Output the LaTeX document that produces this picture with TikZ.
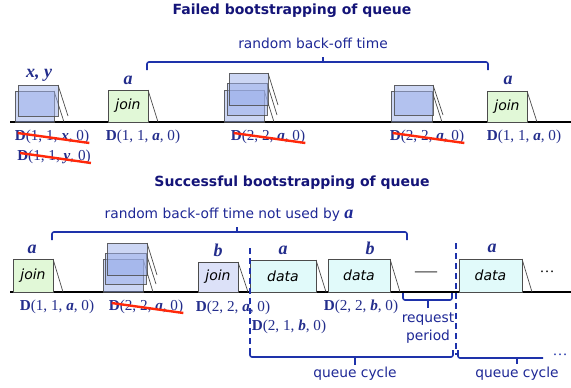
\documentclass[tikz,border=0pt]{standalone}
\usepackage{fontspec}
\setmainfont{Liberation Serif}
\setsansfont{DejaVu Sans}
\definecolor{navy}{RGB}{20,20,120}
\definecolor{bracec}{RGB}{30,50,170}
\definecolor{lblc}{RGB}{30,40,150}
\definecolor{dc}{RGB}{35,45,140}
\definecolor{collc}{RGB}{155,175,235}
\definecolor{joing}{RGB}{225,248,215}
\definecolor{joinb}{RGB}{220,225,248}
\definecolor{datac}{RGB}{225,250,250}
\definecolor{strikec}{RGB}{255,40,10}
\tikzset{
  title/.style={font=\sffamily\bfseries\fontsize{14}{16}\selectfont, text=navy, inner sep=0pt},
  lbl/.style={font=\sffamily\fontsize{13.8}{16}\selectfont, text=lblc, inner sep=0pt},
  dl/.style={font=\fontsize{15.2}{17}\selectfont, text=dc, inner sep=0pt},
  who/.style={font=\bfseries\itshape\fontsize{18}{20}\selectfont, text=dc, inner sep=0pt},
  brace/.style={draw=bracec, line width=1.6pt, rounded corners=2pt},
  vdash/.style={draw=bracec, line width=1.6pt, dash pattern=on 6pt off 4pt},
  strike/.style={draw=strikec, line width=2.4pt},
  pk/.style={draw=black!70, line width=0.7pt, inner sep=0pt, outer sep=0pt, anchor=south west,
     font=\sffamily\itshape\fontsize{14}{16}\selectfont},
  coll/.style={pk, fill=collc, fill opacity=0.5, draw opacity=0.85},
  tail/.style={draw=black!70, line width=0.7pt},
}
\newcommand\pkbox[7]{% name, x1, ytop, x2, ybot, style, text
  \node[#6, minimum width=#4pt-#2pt, minimum height=#5pt-#3pt] (#1) at (#2,#5) {#7};
  \draw[tail] (#1.north east) -- ([xshift=10pt]#1.south east);}
\begin{document}
\begin{tikzpicture}[x=1pt, y=-1pt]
\path[use as bounding box, fill=white] (0,0) rectangle (571,388);

% ---------- top: failed ----------
\node[title] (t1) at (292,11) {Failed bootstrapping of queue};
\node[lbl] (r1) at (313,43) {random back-off time};
\draw[brace] (147,70) -- (147,62) -- (488,62) -- (488,70);
\draw[brace] (323,62) -- (323,57);
\draw[line width=1.6pt] (10,122) -- (571,122);

\pkbox{c1a}{15}{91}{54}{122}{coll}{}
\pkbox{c1b}{18}{85}{58}{116}{coll}{}
\pkbox{ja1}{108}{90}{148}{122}{pk, fill=joing}{join}
\pkbox{c3a}{224}{90}{264}{122}{coll}{}
\pkbox{c3b}{227}{83}{267}{115}{coll}{}
\pkbox{c3c}{229}{73}{268}{105}{coll}{}
\pkbox{c4a}{391}{91}{432}{122}{coll}{}
\pkbox{c4b}{394}{85}{433}{115}{coll}{}
\pkbox{ja2}{487}{91}{527}{122}{pk, fill=joing}{join}

\node[who] (wxy) at (39,75) {x, y};
\node[who] (wa1) at (128,80) {a};
\node[who] (wa2) at (508,80) {a};

\node[dl] (d1) at (52,137) {\textbf{D}(1, 1, \textbf{\textit{x}}, 0)};
\node[dl] (d2) at (54,157) {\textbf{D}(1, 1, \textbf{\textit{y}}, 0)};
\node[dl] (d3) at (143,137) {\textbf{D}(1, 1, \textbf{\textit{a}}, 0)};
\node[dl] (d4) at (268,137) {\textbf{D}(2, 2, \textbf{\textit{a}}, 0)};
\node[dl] (d5) at (427,137) {\textbf{D}(2, 2, \textbf{\textit{a}}, 0)};
\node[dl] (d6) at (524,137) {\textbf{D}(1, 1, \textbf{\textit{a}}, 0)};
\foreach \d in {d1,d2,d4,d5}
  \draw[strike] ([shift={(3,-4)}]\d.west) -- ([shift={(0,6)}]\d.east);

% ---------- bottom: successful ----------
\node[title] (t2) at (292,183) {Successful bootstrapping of queue};
\node[lbl] (r2) at (229,215) {random back-off time not used by {\rmfamily\bfseries\itshape\fontsize{18}{20}\selectfont a}};
\draw[brace] (52,240) -- (52,232) -- (407,232) -- (407,240);
\draw[brace] (237,232) -- (237,227);
\draw[line width=1.6pt] (10,292) -- (571,292);

\pkbox{jb1}{13}{259}{53}{292}{pk, fill=joing}{join}
\pkbox{c5a}{103}{259}{143}{292}{coll}{}
\pkbox{c5b}{105}{253}{146}{284}{coll}{}
\pkbox{c5c}{107}{243}{147}{275}{coll}{}
\pkbox{jbb}{198}{262}{238}{292}{pk, fill=joinb}{join}
\pkbox{da1}{250}{260}{316}{292}{pk, fill=datac}{data}
\pkbox{db}{328}{259}{390}{292}{pk, fill=datac}{data}
\pkbox{da2}{459}{259}{522}{292}{pk, fill=datac}{data}

\node[who] (wb1) at (32,249) {a};
\node[who] (wb2) at (218,250) {b};
\node[who] (wb3) at (283,250) {a};
\node[who] (wb4) at (370,248) {b};
\node[who] (wb5) at (492,248) {a};

\node[dl] (e1) at (57,307) {\textbf{D}(1, 1, \textbf{\textit{a}}, 0)};
\node[dl] (e2) at (146,307) {\textbf{D}(2, 2, \textbf{\textit{a}}, 0)};
\node[dl] (e3) at (233,308) {\textbf{D}(2, 2, \textbf{\textit{a}}, 0)};
\node[dl] (e4) at (289,327) {\textbf{D}(2, 1, \textbf{\textit{b}}, 0)};
\node[dl] (e5) at (361,307) {\textbf{D}(2, 2, \textbf{\textit{b}}, 0)};
\draw[strike] ([shift={(3,-4)}]e2.west) -- ([shift={(0,6)}]e2.east);

\node[font=\fontsize{22}{22}\selectfont, text=black!75, inner sep=0pt] (gap) at (426,275) {—};
\node[font=\fontsize{15}{16}\selectfont, inner sep=0pt] (dots1) at (547,272) {…};

% request period
\draw[brace] (403,293) -- (403,300) -- (452,300) -- (452,293);
\draw[brace] (428,300) -- (428,308);
\node[lbl] (rq1) at (428,319) {request};
\node[lbl] (rq2) at (428,337) {period};

% dashed boundaries
\coordinate (v1t) at (250,248); \coordinate (v1b) at (250,350);
\coordinate (v2t) at (456,243); \coordinate (v2b) at (456,355);
\draw[vdash] (v1t) -- (v1b);
\draw[vdash] (v2t) -- (v2b);

% queue cycle braces
\draw[brace] (v1b) -- (250,357) -- (453,357) -- (453,350);
\draw[brace] (355,357) -- (355,365);
\node[lbl] (qc1) at (355,374) {queue cycle};
\draw[brace] (458,350) -- (458,358) -- (543,358);
\draw[brace] (517,358) -- (517,364);
\node[lbl] (qc2) at (517,374) {queue cycle};
\node[font=\fontsize{15}{16}\selectfont, text=bracec, inner sep=0pt] (dots2) at (560,355) {…};
\end{tikzpicture}
\end{document}
